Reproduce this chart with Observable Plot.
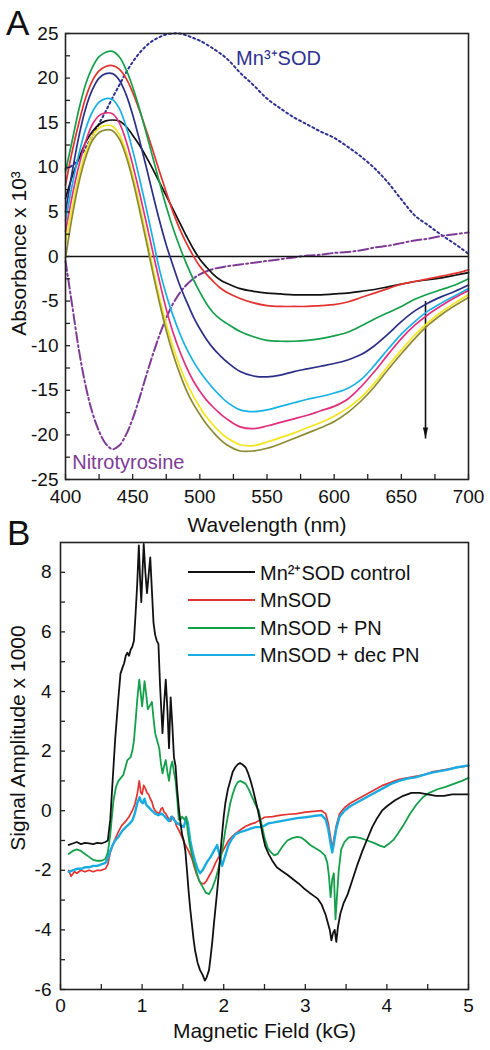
<!DOCTYPE html>
<html><head><meta charset="utf-8">
<script src="https://cdn.jsdelivr.net/npm/d3@7"></script>
<script src="https://cdn.jsdelivr.net/npm/@observablehq/plot@0.6"></script>
<style>
body{margin:0;background:#fff;}
#wrap{position:relative;width:490px;height:1050px;overflow:hidden;background:#fff;font-family:"Liberation Sans",Arial,Helvetica,sans-serif;color:#111;}
#A,#B{position:absolute;left:0;}
#A{top:0;} #B{top:530px;}
svg{overflow:visible;}
.panel{position:absolute;font-size:35px;line-height:35px;}
.row{position:absolute;left:188px;height:28px;display:flex;align-items:center;font-size:20px;white-space:nowrap;}
.sw{width:67px;height:2px;margin-right:5px;}
</style></head>
<body>
<div id="wrap">
  <div id="A"></div>
  <div id="B"></div>
  <div class="panel" style="left:6px;top:5px;">A</div>
  <div class="panel" style="left:7px;top:515px;">B</div>
  <div id="legend"></div>
</div>
<script>
// ---------- Panel A data (absorbance x 10^3) ----------
const wavelengths = [400,405,410,415,420,425,430,435,440,445,450,455,460,465,470,475,480,485,490,495,500,505,510,515,520,
  530,540,550,560,570,580,590,600,610,620,630,640,650,660,670,680,690,700];
const absBlack  = [6.5,9.0,11.0,12.8,14.0,14.8,15.2,15.3,15.2,14.6,13.6,12.5,11.2,9.8,8.3,6.8,5.3,3.8,2.3,0.9,-0.3,-1.2,-2.0,-2.6,-3.0,
  -3.6,-3.9,-4.1,-4.2,-4.3,-4.3,-4.3,-4.2,-4.1,-3.9,-3.7,-3.4,-3.1,-2.8,-2.6,-2.4,-2.1,-1.8];
const absRed    = [8.0,11.8,15.0,17.8,19.7,20.8,21.3,21.4,21.0,20.0,18.4,16.4,14.2,11.9,9.5,7.2,5.0,3.1,1.5,0.1,-1.1,-2.0,-2.8,-3.5,-4.0,
  -4.7,-5.2,-5.5,-5.6,-5.6,-5.6,-5.5,-5.4,-5.1,-4.6,-4.1,-3.6,-3.1,-2.8,-2.5,-2.2,-1.9,-1.5];
const absGreen  = [9.5,13.0,16.5,19.3,21.2,22.4,22.9,23.0,22.4,21.0,19.0,16.6,13.9,11.1,8.3,5.6,3.2,1.1,-0.8,-2.5,-4.0,-5.3,-6.3,-7.0,-7.5,
  -8.4,-9.0,-9.4,-9.5,-9.5,-9.4,-9.2,-8.9,-8.5,-7.8,-7.0,-6.3,-5.6,-4.8,-4.2,-3.7,-3.2,-2.5];
const absNavy   = [5.0,9.5,13.5,16.6,18.7,20.0,20.5,20.5,19.8,18.2,15.9,13.1,10.1,7.0,4.0,1.3,-1.0,-3.2,-5.0,-6.7,-8.1,-9.3,-10.3,-11.1,-11.8,
  -12.9,-13.4,-13.5,-13.3,-12.9,-12.6,-12.3,-12.0,-11.6,-11.0,-10.0,-8.7,-7.3,-6.1,-5.2,-4.5,-3.9,-3.2];
const absCyan   = [4.0,8.0,11.5,14.3,16.2,17.3,17.7,17.6,16.6,14.6,11.9,8.8,5.5,2.0,-1.5,-4.3,-6.6,-8.6,-10.3,-11.7,-12.9,-13.9,-14.8,-15.6,-16.3,
  -17.2,-17.4,-17.2,-16.8,-16.4,-16.0,-15.7,-15.3,-14.8,-13.8,-12.2,-10.4,-8.7,-7.3,-6.1,-5.2,-4.4,-3.6];
const absMagenta= [2.8,6.8,10.2,12.9,14.8,15.8,16.1,16.0,15.0,13.0,10.3,7.2,3.9,0.5,-2.8,-5.9,-8.5,-10.6,-12.4,-13.9,-15.1,-16.1,-16.9,-17.6,-18.2,
  -19.1,-19.3,-19.0,-18.6,-18.2,-17.8,-17.3,-16.8,-16.0,-14.6,-12.9,-11.0,-9.2,-7.7,-6.5,-5.5,-4.6,-3.8];
const absYellow = [1.5,5.5,9.0,11.7,13.5,14.4,14.7,14.6,13.7,11.8,9.1,5.9,2.4,-1.2,-4.6,-7.6,-10.1,-12.3,-14.1,-15.6,-16.9,-18.0,-18.9,-19.7,-20.3,
  -21.1,-21.2,-20.8,-20.3,-19.8,-19.2,-18.6,-17.9,-17.0,-15.8,-14.2,-12.3,-10.5,-8.8,-7.4,-6.2,-5.2,-4.3];
const absOlive  = [-0.2,4.5,8.3,11.1,13.0,13.9,14.2,14.1,13.2,11.3,8.6,5.3,1.8,-1.8,-5.2,-8.3,-10.9,-13.1,-15.0,-16.5,-17.7,-18.8,-19.7,-20.5,-21.1,
  -21.8,-21.8,-21.5,-21.0,-20.4,-19.8,-19.2,-18.5,-17.5,-16.2,-14.6,-12.7,-10.9,-9.2,-7.7,-6.5,-5.5,-4.6];
// reference spectra [wavelength, value]
const mn3SOD = [[400,9.8],[405,10.2],[410,11],[415,12.2],[420,13.5],[425,14.9],[430,16.3],[435,17.8],[440,19.2],[445,20.6],[450,21.8],
  [455,22.8],[460,23.6],[465,24.2],[470,24.6],[475,24.9],[480,25.0],[485,25.0],[490,24.8],[495,24.5],[500,24.2],[510,23.3],[520,22.2],
  [530,20.6],[540,19.2],[550,17.7],[560,16.6],[570,15.6],[580,14.8],[590,14.0],[600,13.3],[610,12.3],[620,11.2],[630,9.9],[640,8.3],
  [650,6.4],[660,4.6],[670,3.5],[680,2.4],[690,1.4],[700,0.3]];
const nitrotyrosine = [[400,-0.5],[402,-2.5],[405,-5.5],[410,-10.5],[415,-14.5],[420,-17.5],[425,-19.6],[430,-21.0],[435,-21.6],[440,-21.2],
  [445,-20.0],[450,-18.2],[455,-15.9],[460,-13.4],[465,-11.0],[470,-8.8],[475,-6.9],[480,-5.3],[485,-4.1],[490,-3.2],[495,-2.5],[500,-2.0],
  [510,-1.4],[520,-1.1],[530,-0.9],[540,-0.7],[550,-0.5],[560,-0.3],[570,-0.1],[580,0.1],[590,0.2],[600,0.4],[610,0.5],[620,0.7],[630,1.0],
  [640,1.2],[650,1.5],[660,1.8],[670,2.0],[680,2.3],[690,2.5],[700,2.7]];
const annotationsA = [
  {x: 527, y: 22.2, text: "Mn³⁺SOD", color: "#2e3192"},
  {x: 405, y: -23.1, text: "Nitrotyrosine", color: "#7e3b96"}
];
const arrowA = [{x: 668, y1: -5, y2: -20.4}];
const xTicksA = [400,425,450,475,500,525,550,575,600,625,650,675,700];
const xLabelsA = [400,450,500,550,600,650,700];
const yTicksA = [-25,-22.5,-20,-17.5,-15,-12.5,-10,-7.5,-5,-2.5,0,2.5,5,7.5,10,12.5,15,17.5,20,22.5,25];
const yLabelsA = [-25,-20,-15,-10,-5,0,5,10,15,20,25];

// ---------- Panel B data (EPR signal amplitude x 1000) ----------
const eprControl = [[0.10,-1.15],[0.15,-1.1],[0.2,-1.05],[0.25,-1.12],[0.3,-1.08],[0.35,-1.1],[0.4,-1.12],[0.45,-1.08],[0.5,-1.1],[0.55,-1.05],
  [0.58,-1.0],[0.61,-0.3],[0.63,0.6],[0.65,1.5],[0.67,2.4],[0.69,3.1],[0.71,3.8],[0.735,4.6],[0.76,4.8],[0.78,4.95],[0.80,5.2],[0.82,5.3],
  [0.84,5.2],[0.86,5.4],[0.88,5.5],[0.9,5.7],[0.92,6.6],[0.94,7.6],[0.96,8.9],[0.975,7.8],[0.99,7.0],[1.005,8.0],[1.02,8.95],[1.04,8.0],
  [1.06,7.3],[1.08,7.9],[1.10,8.5],[1.12,7.4],[1.14,6.3],[1.16,5.9],[1.18,5.7],[1.2,5.6],[1.22,4.2],[1.25,2.6],[1.27,3.6],[1.29,4.4],
  [1.31,3.4],[1.33,2.1],[1.35,3.8],[1.37,2.9],[1.39,1.8],[1.41,1.5],[1.43,0.7],[1.45,0.1],[1.47,-0.4],[1.49,-0.8],[1.51,-1.0],[1.53,-1.35],
  [1.55,-2.0],[1.57,-2.7],[1.59,-3.3],[1.61,-3.8],[1.63,-4.3],[1.65,-4.7],[1.68,-5.1],[1.71,-5.35],[1.74,-5.5],[1.77,-5.7],[1.79,-5.6],
  [1.82,-5.35],[1.84,-4.9],[1.86,-4.4],[1.88,-3.8],[1.90,-3.25],[1.92,-2.7],[1.94,-2.1],[1.96,-1.4],[1.98,-0.8],[2.0,-0.2],[2.02,0.25],
  [2.05,0.7],[2.08,1.0],[2.11,1.3],[2.14,1.45],[2.17,1.55],[2.2,1.6],[2.23,1.55],[2.27,1.45],[2.30,1.25],[2.33,1.0],[2.36,0.7],[2.39,0.35],
  [2.42,0.0],[2.45,-0.4],[2.48,-0.85],[2.51,-1.2],[2.55,-1.45],[2.6,-1.7],[2.65,-1.9],[2.7,-2.0],[2.78,-2.15],[2.85,-2.3],[2.92,-2.45],
  [2.98,-2.6],[3.05,-2.75],[3.1,-2.85],[3.15,-2.95],[3.2,-3.15],[3.25,-3.5],[3.28,-3.8],[3.30,-4.0],[3.32,-4.35],[3.34,-4.1],[3.36,-4.0],
  [3.38,-4.4],[3.40,-3.9],[3.43,-3.45],[3.47,-3.1],[3.52,-2.8],[3.58,-2.3],[3.64,-1.8],[3.70,-1.35],[3.76,-0.95],[3.82,-0.55],[3.88,-0.25],
  [3.94,0.0],[4.0,0.15],[4.1,0.35],[4.2,0.5],[4.3,0.6],[4.4,0.6],[4.5,0.55],[4.6,0.5],[4.7,0.5],[4.8,0.55],[4.9,0.55],[5.0,0.55]];
const eprMnSOD = [[0.10,-2.0],[0.13,-2.2],[0.17,-2.05],[0.2,-2.1],[0.25,-2.0],[0.3,-2.05],[0.35,-2.0],[0.4,-2.05],[0.45,-2.0],[0.5,-2.0],
  [0.55,-1.95],[0.58,-1.8],[0.61,-1.4],[0.64,-1.15],[0.67,-0.95],[0.71,-0.7],[0.75,-0.5],[0.8,-0.35],[0.84,-0.2],[0.88,0.0],[0.91,0.2],
  [0.94,0.55],[0.965,1.0],[0.985,0.6],[1.0,0.55],[1.02,0.85],[1.04,0.75],[1.06,0.6],[1.08,0.55],[1.1,0.4],[1.12,0.3],[1.14,0.1],[1.16,0.0],
  [1.18,-0.05],[1.21,-0.1],[1.23,0.05],[1.25,0.1],[1.27,-0.05],[1.29,-0.1],[1.32,-0.25],[1.35,-0.35],[1.37,-0.2],[1.39,-0.25],[1.42,-0.5],
  [1.45,-0.65],[1.49,-0.9],[1.53,-1.15],[1.57,-1.35],[1.61,-1.6],[1.64,-1.9],[1.67,-2.15],[1.70,-2.35],[1.73,-2.45],[1.76,-2.45],[1.79,-2.35],
  [1.82,-2.2],[1.86,-2.0],[1.9,-1.75],[1.94,-1.55],[1.98,-1.4],[2.02,-1.2],[2.06,-1.0],[2.1,-0.88],[2.14,-0.78],[2.2,-0.65],[2.27,-0.52],
  [2.33,-0.45],[2.39,-0.4],[2.45,-0.3],[2.5,-0.22],[2.6,-0.2],[2.7,-0.15],[2.8,-0.12],[2.9,-0.1],[3.0,-0.05],[3.1,-0.02],[3.2,0.0],[3.25,-0.1],
  [3.28,-0.4],[3.31,-0.9],[3.33,-1.3],[3.35,-0.95],[3.38,-0.5],[3.42,-0.1],[3.48,0.1],[3.55,0.25],[3.65,0.4],[3.75,0.55],[3.85,0.7],[3.95,0.85],
  [4.05,0.95],[4.15,1.05],[4.25,1.1],[4.35,1.15],[4.45,1.2],[4.55,1.3],[4.65,1.35],[4.75,1.4],[4.85,1.45],[5.0,1.5]];
const eprMnSODPN = [[0.10,-1.45],[0.15,-1.35],[0.2,-1.3],[0.25,-1.35],[0.3,-1.45],[0.35,-1.55],[0.4,-1.65],[0.45,-1.68],[0.5,-1.68],[0.55,-1.62],
  [0.58,-1.4],[0.61,-0.8],[0.63,-0.2],[0.65,0.35],[0.68,0.8],[0.71,1.0],[0.74,1.1],[0.77,1.2],[0.8,1.5],[0.82,1.7],[0.84,1.75],[0.86,1.8],
  [0.88,2.0],[0.9,2.35],[0.92,3.0],[0.94,3.7],[0.965,4.4],[0.985,3.9],[1.0,3.5],[1.015,3.9],[1.03,4.35],[1.05,3.9],[1.07,3.4],[1.09,3.5],
  [1.12,3.65],[1.14,3.1],[1.16,2.6],[1.19,2.3],[1.21,2.1],[1.23,1.6],[1.25,1.25],[1.27,1.5],[1.29,1.7],[1.31,1.3],[1.33,1.0],[1.35,1.45],
  [1.37,1.65],[1.39,1.3],[1.41,1.0],[1.43,0.4],[1.45,-0.3],[1.47,-0.3],[1.49,-0.2],[1.52,-0.3],[1.54,-0.2],[1.56,-0.7],[1.58,-1.1],[1.62,-1.6],
  [1.66,-2.0],[1.70,-2.35],[1.74,-2.55],[1.78,-2.75],[1.82,-2.8],[1.86,-2.6],[1.90,-2.3],[1.93,-2.0],[1.96,-1.65],[1.99,-1.2],[2.02,-0.65],
  [2.05,-0.2],[2.08,0.25],[2.11,0.55],[2.14,0.8],[2.17,0.95],[2.2,1.0],[2.24,0.95],[2.27,0.9],[2.31,0.7],[2.35,0.45],[2.39,0.2],[2.43,0.0],
  [2.46,-0.4],[2.50,-0.9],[2.54,-1.25],[2.58,-1.4],[2.62,-1.5],[2.66,-1.45],[2.72,-1.2],[2.78,-1.0],[2.84,-0.92],[2.90,-0.88],[2.95,-0.9],
  [3.0,-1.0],[3.06,-1.15],[3.12,-1.25],[3.18,-1.35],[3.24,-1.5],[3.27,-1.75],[3.29,-2.2],[3.31,-2.9],[3.33,-2.3],[3.35,-2.1],[3.37,-3.65],
  [3.39,-2.8],[3.41,-2.0],[3.44,-1.3],[3.48,-1.05],[3.53,-0.9],[3.6,-0.88],[3.68,-0.92],[3.76,-1.0],[3.84,-1.08],[3.92,-1.18],[3.97,-1.22],
  [4.02,-1.12],[4.08,-0.98],[4.14,-0.75],[4.2,-0.5],[4.28,-0.12],[4.36,0.2],[4.44,0.45],[4.52,0.6],[4.62,0.72],[4.72,0.8],[4.82,0.9],
  [4.92,1.0],[5.0,1.1]];
const eprMnSODdecPN = [[0.10,-2.05],[0.15,-2.0],[0.2,-1.95],[0.25,-1.95],[0.3,-1.9],[0.35,-1.9],[0.4,-1.85],[0.45,-1.85],[0.5,-1.8],[0.55,-1.75],
  [0.58,-1.6],[0.61,-1.35],[0.64,-1.15],[0.67,-1.0],[0.71,-0.88],[0.75,-0.7],[0.8,-0.55],[0.84,-0.45],[0.88,-0.33],[0.91,-0.1],[0.94,0.25],
  [0.97,0.45],[0.99,0.3],[1.01,0.25],[1.03,0.4],[1.05,0.2],[1.08,0.12],[1.12,0.0],[1.16,-0.1],[1.2,-0.15],[1.24,-0.1],[1.28,-0.2],[1.31,-0.3],
  [1.33,-0.35],[1.36,-0.2],[1.39,-0.3],[1.42,-0.4],[1.45,-0.45],[1.48,-0.5],[1.51,-0.55],[1.54,-0.25],[1.56,-0.4],[1.59,-1.0],[1.62,-1.4],
  [1.65,-1.7],[1.68,-1.95],[1.71,-2.1],[1.74,-2.0],[1.77,-1.85],[1.80,-1.7],[1.84,-1.55],[1.88,-1.35],[1.92,-1.15],[1.95,-1.5],[1.98,-1.85],
  [2.02,-1.5],[2.06,-1.15],[2.1,-0.95],[2.14,-0.8],[2.2,-0.72],[2.27,-0.66],[2.33,-0.6],[2.39,-0.55],[2.45,-0.55],[2.5,-0.5],[2.55,-0.42],
  [2.6,-0.4],[2.7,-0.35],[2.8,-0.3],[2.9,-0.25],[3.0,-0.22],[3.1,-0.18],[3.2,-0.15],[3.25,-0.3],[3.28,-0.6],[3.31,-1.1],[3.33,-1.4],[3.35,-1.1],
  [3.38,-0.6],[3.42,-0.2],[3.48,0.0],[3.55,0.15],[3.65,0.3],[3.75,0.45],[3.85,0.6],[3.95,0.75],[4.05,0.9],[4.15,1.0],[4.25,1.08],[4.35,1.12],
  [4.45,1.2],[4.55,1.28],[4.65,1.33],[4.75,1.38],[4.85,1.45],[5.0,1.52]];
const legendLabelsB = ["Mn²⁺SOD control", "MnSOD", "MnSOD + PN", "MnSOD + dec PN"];
const legendColorsB = ["#111111", "#e4332e", "#14a04a", "#19ace3"];
const xTicksB = [0,0.5,1,1.5,2,2.5,3,3.5,4,4.5,5];
const xLabelsB = [0,1,2,3,4,5];
const yTicksB = [-6,-5,-4,-3,-2,-1,0,1,2,3,4,5,6,7,8];
const yLabelsB = [-6,-4,-2,0,2,4,6,8];

// ---------- drawing ----------
const FONT = "'Liberation Sans', Arial, Helvetica, sans-serif";
const fmt = d => String(d);
const arrowHead = {draw(ctx) { ctx.moveTo(0, 0); ctx.lineTo(-2.6, -11); ctx.lineTo(2.6, -11); ctx.closePath(); }};

function axisMarks(xTicks, xLabels, yTicks, yLabels, frameW, frameH, padX, padY) {
  return [
    Plot.tickX(xTicks, {x: d => d, insetTop: frameH - 5, stroke: "#222", strokeWidth: 1.3}),
    Plot.tickY(yTicks, {y: d => d, insetRight: frameW - 5, stroke: "#222", strokeWidth: 1.3}),
    Plot.axisX(xLabels, {tickSize: 0, tickPadding: padX, tickFormat: fmt, label: null, fill: "#111"}),
    Plot.axisY(yLabels, {tickSize: 0, tickPadding: padY, tickFormat: fmt, label: null, fill: "#111"}),
    Plot.frame({stroke: "#222", strokeWidth: 1.6})
  ];
}

const seriesA = [
  [absBlack, "#111111"], [absRed, "#e4332e"], [absGreen, "#14a04a"], [absNavy, "#2b2f86"],
  [absCyan, "#16b2e6"], [absMagenta, "#e2307f"], [absYellow, "#f4e51c"], [absOlive, "#8c8a32"]
];

const plotA = Plot.plot({
  width: 490, height: 530,
  marginLeft: 65, marginRight: 22, marginTop: 33, marginBottom: 51,
  x: {domain: [400, 700]},
  y: {domain: [-25, 25]},
  style: {fontFamily: FONT, fontSize: "19px", color: "#111", background: "transparent"},
  marks: [
    Plot.link(arrowA, {x1: "x", x2: "x", y1: "y1", y2: "y2", stroke: "#111", strokeWidth: 1.6}),
    Plot.dot(arrowA, {x: "x", y: "y2", symbol: arrowHead, fill: "#111", stroke: "none", r: 4}),
    Plot.line(mn3SOD, {stroke: "#2e3192", strokeWidth: 2, strokeDasharray: "2,3", curve: "catmull-rom"}),
    Plot.line(nitrotyrosine, {stroke: "#7e3b96", strokeWidth: 2, strokeDasharray: "10,3,2,3", curve: "catmull-rom"}),
    Plot.ruleY([0], {stroke: "#111", strokeWidth: 1.4}),
    ...seriesA.map(([vals, color]) => Plot.line(wavelengths.map((w, i) => [w, vals[i]]),
      {stroke: color, strokeWidth: 1.7, curve: "catmull-rom"})),
    Plot.text(annotationsA, {x: "x", y: "y", text: "text", fill: "color", textAnchor: "start", fontSize: 20}),
    ...axisMarks(xTicksA, xLabelsA, yTicksA, yLabelsA, 403, 446, 10, 7),
    Plot.text(["Wavelength (nm)"], {frameAnchor: "bottom", textAnchor: "middle", lineAnchor: "middle", dy: 46, fontSize: 21, fill: "#111"}),
    Plot.text(["Absorbance x 10³"], {frameAnchor: "left", textAnchor: "middle", lineAnchor: "middle", dx: -46, dy: -3, rotate: -90, fontSize: 21, fill: "#111"})
  ]
});
document.getElementById("A").append(plotA);

const seriesB = [
  [eprMnSOD, legendColorsB[1], 1.7], [eprMnSODdecPN, legendColorsB[3], 2.4],
  [eprMnSODPN, legendColorsB[2], 1.8], [eprControl, legendColorsB[0], 1.8]
];
const plotB = Plot.plot({
  width: 490, height: 520,
  marginLeft: 60, marginRight: 22, marginTop: 12, marginBottom: 61,
  x: {domain: [0, 5]},
  y: {domain: [-6, 9]},
  style: {fontFamily: FONT, fontSize: "19px", color: "#111", background: "transparent"},
  marks: [
    ...seriesB.map(([pts, color, w]) => Plot.line(pts, {stroke: color, strokeWidth: w})),
    ...axisMarks(xTicksB, xLabelsB, yTicksB, yLabelsB, 408, 447, 9, 9),
    Plot.text(["Magnetic Field (kG)"], {frameAnchor: "bottom", textAnchor: "middle", lineAnchor: "middle", dy: 42, fontSize: 21, fill: "#111"}),
    Plot.text(["Signal Amplitude x 1000"], {frameAnchor: "left", textAnchor: "middle", lineAnchor: "middle", dx: -42, dy: -28, rotate: -90, fontSize: 21, fill: "#111"})
  ]
});
document.getElementById("B").append(plotB);

// legend for panel B
const legend = document.getElementById("legend");
const rowTops = [558, 586, 614, 641];
legendLabelsB.forEach((lab, i) => {
  const row = document.createElement("div");
  row.className = "row";
  row.style.top = rowTops[i] + "px";
  const sw = document.createElement("div");
  sw.className = "sw";
  sw.style.background = legendColorsB[i];
  const tx = document.createElement("span");
  tx.textContent = lab;
  row.append(sw, tx);
  legend.append(row);
});
</script>
</body></html>
